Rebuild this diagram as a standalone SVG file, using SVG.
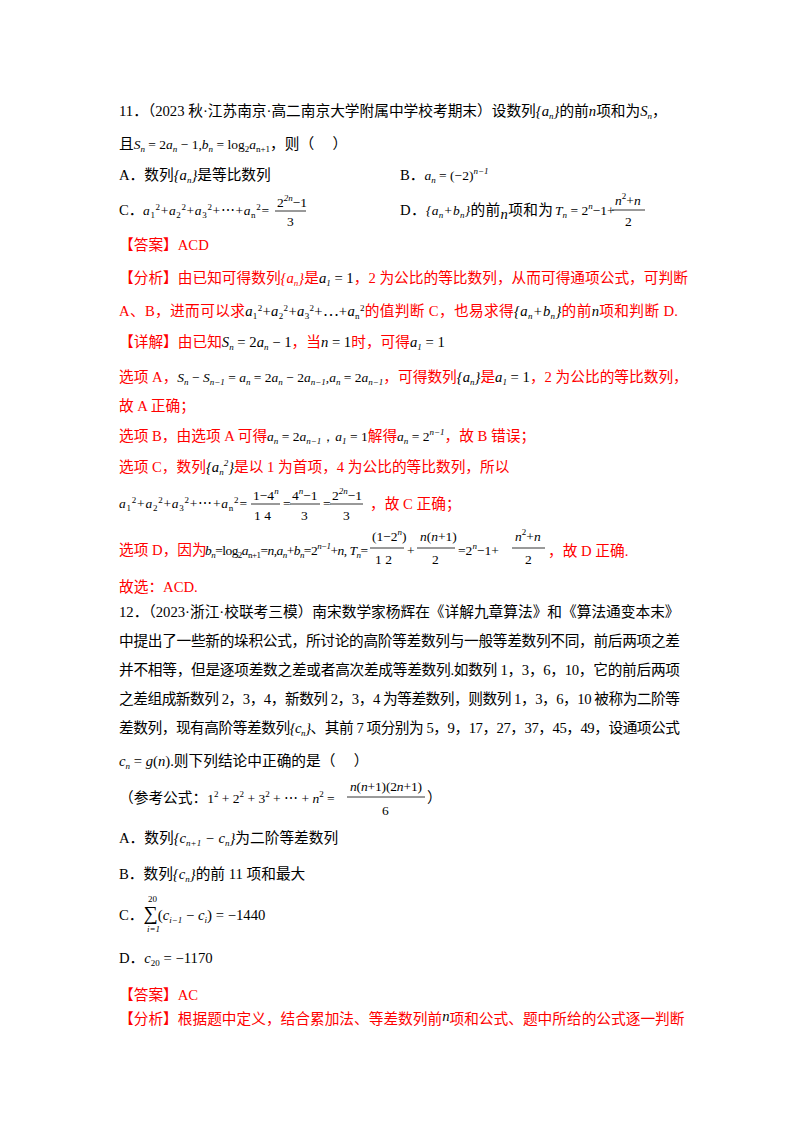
<svg xmlns="http://www.w3.org/2000/svg" width="800" height="1132" viewBox="0 0 800 1132">
<style>
text{font-family:"Liberation Serif","Noto Sans CJK SC",serif;font-size:14.7px;fill:#000}
.r{fill:#f00}
.m{font-family:"Liberation Serif",serif;font-style:italic}
.s{font-size:9px}
.f{font-family:"Liberation Serif",serif;font-size:13.5px}
line{stroke:#000;stroke-width:0.8}
</style>
<rect width="800" height="1132" fill="#fff"/>
<g id="q11">
<text x="119" y="116">11．（2023 秋·江苏南京·高二南京大学附属中学校考期末）设数列<tspan class="m">{a<tspan class="s" dy="3">n</tspan><tspan dy="-3">}</tspan></tspan>的前<tspan class="m">n</tspan>项和为<tspan class="m">S<tspan class="s" dy="3">n</tspan></tspan><tspan dy="-3">，</tspan></text>
<text x="119" y="149">且<tspan class="f"><tspan class="m">S<tspan class="s" dy="3">n</tspan></tspan><tspan dy="-3"> = 2</tspan><tspan class="m">a<tspan class="s" dy="3">n</tspan></tspan><tspan dy="-3"> − 1,</tspan><tspan class="m">b<tspan class="s" dy="3">n</tspan></tspan><tspan dy="-3"> = log</tspan><tspan class="s" dy="3">2</tspan><tspan class="m" dy="-3">a</tspan><tspan class="s" dy="3">n+1</tspan></tspan><tspan dy="-3">，则（　 ）</tspan></text>
<text x="119" y="180">A．数列<tspan class="m">{a<tspan class="s" dy="3">n</tspan><tspan dy="-3">}</tspan></tspan>是等比数列</text>
<text x="400" y="180">B．<tspan class="f"><tspan class="m">a<tspan class="s" dy="3">n</tspan></tspan><tspan dy="-3"> = (−2)</tspan><tspan class="s m" dy="-6">n−1</tspan></tspan></text>
<text x="119" y="215">C．</text>
<text class="f" x="143" y="215" textLength="126"><tspan class="m">a</tspan><tspan class="s" dy="3">1</tspan><tspan class="s" dy="-8">2</tspan><tspan dy="5">+</tspan><tspan class="m">a</tspan><tspan class="s" dy="3">2</tspan><tspan class="s" dy="-8">2</tspan><tspan dy="5">+</tspan><tspan class="m">a</tspan><tspan class="s" dy="3">3</tspan><tspan class="s" dy="-8">2</tspan><tspan dy="5">+⋯+</tspan><tspan class="m">a</tspan><tspan class="s" dy="3">n</tspan><tspan class="s" dy="-8">2</tspan><tspan dy="5">=</tspan></text>
<text class="f" x="277" y="207">2<tspan class="s m" dy="-6">2n</tspan><tspan dy="6">−1</tspan></text>
<line x1="275" y1="211" x2="306" y2="211"/>
<text class="f" x="287" y="226">3</text>
<text x="400" y="215" textLength="153">D．<tspan class="m f">{a<tspan class="s" dy="3">n</tspan><tspan dy="-3">+b</tspan><tspan class="s" dy="3">n</tspan><tspan dy="-3">}</tspan></tspan>的前<tspan class="m" dy="4">n</tspan><tspan dy="-4">项和为</tspan></text>
<text class="f" x="555" y="215"><tspan class="m">T<tspan class="s" dy="3">n</tspan></tspan><tspan dy="-3"> = 2</tspan><tspan class="s m" dy="-6">n</tspan><tspan dy="6">−1+</tspan></text>
<text class="f" x="615" y="205"><tspan class="m">n</tspan><tspan class="s" dy="-6">2</tspan><tspan dy="6">+</tspan><tspan class="m">n</tspan></text>
<line x1="612" y1="210" x2="645" y2="210"/>
<text class="f" x="625" y="226">2</text>
<text class="r" x="119" y="250">【答案】ACD</text>
<text class="r" x="119" y="283">【分析】由已知可得数列<tspan class="m">{a<tspan class="s" dy="3">n</tspan><tspan dy="-3">}</tspan></tspan>是<tspan class="m" fill="#000">a<tspan class="s" dy="3">1</tspan></tspan><tspan dy="-3" fill="#000"> = 1</tspan>，2 为公比的等比数列，从而可得通项公式，可判断</text>
<text class="r" x="119" y="316" textLength="559">A、B，进而可以求<tspan fill="#000"><tspan class="m">a</tspan><tspan class="s" dy="3">1</tspan><tspan class="s" dy="-8">2</tspan><tspan dy="5">+</tspan><tspan class="m">a</tspan><tspan class="s" dy="3">2</tspan><tspan class="s" dy="-8">2</tspan><tspan dy="5">+</tspan><tspan class="m">a</tspan><tspan class="s" dy="3">3</tspan><tspan class="s" dy="-8">2</tspan><tspan dy="5">+⋯+</tspan><tspan class="m">a</tspan><tspan class="s" dy="3">n</tspan><tspan class="s" dy="-8">2</tspan></tspan><tspan dy="5">的值判断 C，也易求得</tspan><tspan class="m" fill="#000">{a<tspan class="s" dy="3">n</tspan><tspan dy="-3">+b</tspan><tspan class="s" dy="3">n</tspan><tspan dy="-3">}</tspan></tspan>的前<tspan class="m" fill="#000">n</tspan>项和判断 D.</text>
<text class="r" x="119" y="347">【详解】由已知<tspan fill="#000"><tspan class="m">S<tspan class="s" dy="3">n</tspan></tspan><tspan dy="-3"> = 2</tspan><tspan class="m">a<tspan class="s" dy="3">n</tspan></tspan><tspan dy="-3"> − 1</tspan></tspan>，当<tspan class="m" fill="#000">n</tspan><tspan fill="#000"> = 1</tspan>时，可得<tspan class="m" fill="#000">a<tspan class="s" dy="3">1</tspan></tspan><tspan dy="-3" fill="#000"> = 1</tspan></text>
<text class="r" x="119" y="382">选项 A，<tspan class="f" fill="#000"><tspan class="m">S<tspan class="s" dy="3">n</tspan></tspan><tspan dy="-3"> − </tspan><tspan class="m">S<tspan class="s" dy="3">n−1</tspan></tspan><tspan dy="-3"> = </tspan><tspan class="m">a<tspan class="s" dy="3">n</tspan></tspan><tspan dy="-3"> = 2</tspan><tspan class="m">a<tspan class="s" dy="3">n</tspan></tspan><tspan dy="-3"> − 2</tspan><tspan class="m">a<tspan class="s" dy="3">n−1</tspan></tspan><tspan dy="-3">,</tspan><tspan class="m">a<tspan class="s" dy="3">n</tspan></tspan><tspan dy="-3"> = 2</tspan><tspan class="m">a<tspan class="s" dy="3">n−1</tspan></tspan></tspan><tspan dy="-3">，可得数列</tspan><tspan class="m" fill="#000">{a<tspan class="s" dy="3">n</tspan><tspan dy="-3">}</tspan></tspan>是<tspan class="m" fill="#000">a<tspan class="s" dy="3">1</tspan></tspan><tspan dy="-3" fill="#000"> = 1</tspan>，2 为公比的等比数列，</text>
<text class="r" x="119" y="411">故 A 正确；</text>
<text class="r" x="119" y="441">选项 B，由选项 A 可得<tspan class="f" fill="#000"><tspan class="m">a<tspan class="s" dy="3">n</tspan></tspan><tspan dy="-3"> = 2</tspan><tspan class="m">a<tspan class="s" dy="3">n−1</tspan></tspan><tspan dy="-3">，</tspan><tspan class="m">a<tspan class="s" dy="3">1</tspan></tspan><tspan dy="-3"> = 1</tspan></tspan>解得<tspan class="f" fill="#000"><tspan class="m">a<tspan class="s" dy="3">n</tspan></tspan><tspan dy="-3"> = 2</tspan><tspan class="s m" dy="-6">n−1</tspan></tspan><tspan dy="6">，故 B 错误；</tspan></text>
<text class="r" x="119" y="472">选项 C，数列<tspan class="m" fill="#000">{a<tspan class="s" dy="3">n</tspan><tspan class="s" dy="-9">2</tspan><tspan dy="6">}</tspan></tspan>是以 1 为首项，4 为公比的等比数列，所以</text>
<text class="f" x="119" y="508" textLength="128"><tspan class="m">a</tspan><tspan class="s" dy="3">1</tspan><tspan class="s" dy="-8">2</tspan><tspan dy="5">+</tspan><tspan class="m">a</tspan><tspan class="s" dy="3">2</tspan><tspan class="s" dy="-8">2</tspan><tspan dy="5">+</tspan><tspan class="m">a</tspan><tspan class="s" dy="3">3</tspan><tspan class="s" dy="-8">2</tspan><tspan dy="5">+⋯+</tspan><tspan class="m">a</tspan><tspan class="s" dy="3">n</tspan><tspan class="s" dy="-8">2</tspan><tspan dy="5">=</tspan></text>
<text class="f" x="253" y="500">1−4<tspan class="s m" dy="-6">n</tspan></text>
<line x1="251" y1="504" x2="280" y2="504"/>
<text class="f" x="254" y="520">1 4</text>
<text class="f" x="283" y="508">=</text>
<text class="f" x="292" y="500">4<tspan class="s m" dy="-6">n</tspan><tspan dy="6">−1</tspan></text>
<line x1="290" y1="504" x2="320" y2="504"/>
<text class="f" x="301" y="520">3</text>
<text class="f" x="323" y="508">=</text>
<text class="f" x="332" y="500">2<tspan class="s m" dy="-6">2n</tspan><tspan dy="6">−1</tspan></text>
<line x1="330" y1="504" x2="363" y2="504"/>
<text class="f" x="343" y="520">3</text>
<text class="r" x="370" y="509">，故 C 正确；</text>
<text class="r" x="119" y="555">选项 D，因为</text>
<text class="f" x="205" y="555" textLength="163"><tspan class="m">b<tspan class="s" dy="3">n</tspan></tspan><tspan dy="-3">=log</tspan><tspan class="s" dy="3">2</tspan><tspan class="m" dy="-3">a</tspan><tspan class="s" dy="3">n+1</tspan><tspan dy="-3">=</tspan><tspan class="m">n</tspan><tspan>,</tspan><tspan class="m">a<tspan class="s" dy="3">n</tspan></tspan><tspan dy="-3">+</tspan><tspan class="m">b<tspan class="s" dy="3">n</tspan></tspan><tspan dy="-3">=2</tspan><tspan class="s m" dy="-6">n−1</tspan><tspan dy="6">+</tspan><tspan class="m">n</tspan><tspan>,  </tspan><tspan class="m">T<tspan class="s" dy="3">n</tspan></tspan><tspan dy="-3">=</tspan></text>
<text class="f" x="372" y="541">(1−2<tspan class="s m" dy="-6">n</tspan><tspan dy="6">)</tspan></text>
<line x1="370" y1="548" x2="404" y2="548"/>
<text class="f" x="375" y="564">1 2</text>
<text class="f" x="407" y="555">+</text>
<text class="f" x="420" y="541"><tspan class="m">n</tspan>(<tspan class="m">n</tspan>+1)</text>
<line x1="417" y1="548" x2="455" y2="548"/>
<text class="f" x="432" y="564">2</text>
<text class="f" x="458" y="555">=2<tspan class="s m" dy="-6">n</tspan><tspan dy="6">−1+</tspan></text>
<text class="f" x="515" y="541"><tspan class="m">n</tspan><tspan class="s" dy="-6">2</tspan><tspan dy="6">+</tspan><tspan class="m">n</tspan></text>
<line x1="512" y1="548" x2="545" y2="548"/>
<text class="f" x="525" y="564">2</text>
<text class="r" x="548" y="556">，故 D 正确.</text>
<text class="r" x="119" y="592">故选：ACD.</text>
</g>
<g id="q12">
<text x="119" y="617">12．（2023·浙江·校联考三模）南宋数学家杨辉在《详解九章算法》和《算法通变本末》</text>
<text x="119" y="646" textLength="561">中提出了一些新的垛积公式，所讨论的高阶等差数列与一般等差数列不同，前后两项之差</text>
<text x="119" y="675" textLength="561">并不相等，但是逐项差数之差或者高次差成等差数列.如数列 1，3，6，10，它的前后两项</text>
<text x="119" y="704" textLength="561">之差组成新数列 2，3，4，新数列 2，3，4 为等差数列，则数列 1，3，6，10 被称为二阶等</text>
<text x="119" y="733" textLength="561">差数列，现有高阶等差数列<tspan class="m">{c<tspan class="s" dy="3">n</tspan><tspan dy="-3">}</tspan></tspan>、其前 7 项分别为 5，9，17，27，37，45，49，设通项公式</text>
<text x="119" y="766"><tspan class="m">c<tspan class="s" dy="3">n</tspan></tspan><tspan dy="-3"> = </tspan><tspan class="m">g</tspan>(<tspan class="m">n</tspan>).则下列结论中正确的是（　 ）</text>
<text x="119" y="803">（参考公式：<tspan class="f">1<tspan class="s" dy="-6">2</tspan><tspan dy="6"> + 2</tspan><tspan class="s" dy="-6">2</tspan><tspan dy="6"> + 3</tspan><tspan class="s" dy="-6">2</tspan><tspan dy="6"> + ⋯ + </tspan><tspan class="m">n</tspan><tspan class="s" dy="-6">2</tspan><tspan dy="6"> =</tspan></tspan></text>
<text class="f" x="350" y="791" textLength="72"><tspan class="m">n</tspan>(<tspan class="m">n</tspan>+1)(2<tspan class="m">n</tspan>+1)</text>
<line x1="347" y1="797" x2="425" y2="797"/>
<text class="f" x="382" y="815">6</text>
<text x="427" y="803">）</text>
<text x="119" y="843">A．数列<tspan class="m">{c<tspan class="s" dy="3">n+1</tspan><tspan dy="-3"> − c</tspan><tspan class="s" dy="3">n</tspan><tspan dy="-3">}</tspan></tspan>为二阶等差数列</text>
<text x="119" y="879">B．数列<tspan class="m">{c<tspan class="s" dy="3">n</tspan><tspan dy="-3">}</tspan></tspan>的前 11 项和最大</text>
<text x="119" y="920">C．<tspan font-size="20">∑</tspan><tspan font-size="15">(</tspan><tspan class="m">c</tspan><tspan class="s m" dy="3">i−1</tspan><tspan dy="-3"> − </tspan><tspan class="m">c</tspan><tspan class="s m" dy="3">i</tspan><tspan dy="-3" font-size="15">)</tspan><tspan> = −1440</tspan></text>
<text class="s" x="148" y="902">20</text>
<text class="s m" x="147" y="932">i=1</text>
<text x="119" y="963">D．<tspan class="m">c</tspan><tspan class="s" dy="3">20</tspan><tspan dy="-3"> = −1170</tspan></text>
<text class="r" x="119" y="1000">【答案】AC</text>
<text class="r" x="119" y="1024">【分析】根据题中定义，结合累加法、等差数列前<tspan class="m" fill="#000" dy="-3">n</tspan><tspan dy="3">项和公式、题中所给的公式逐一判断</tspan></text>
</g>
</svg>
